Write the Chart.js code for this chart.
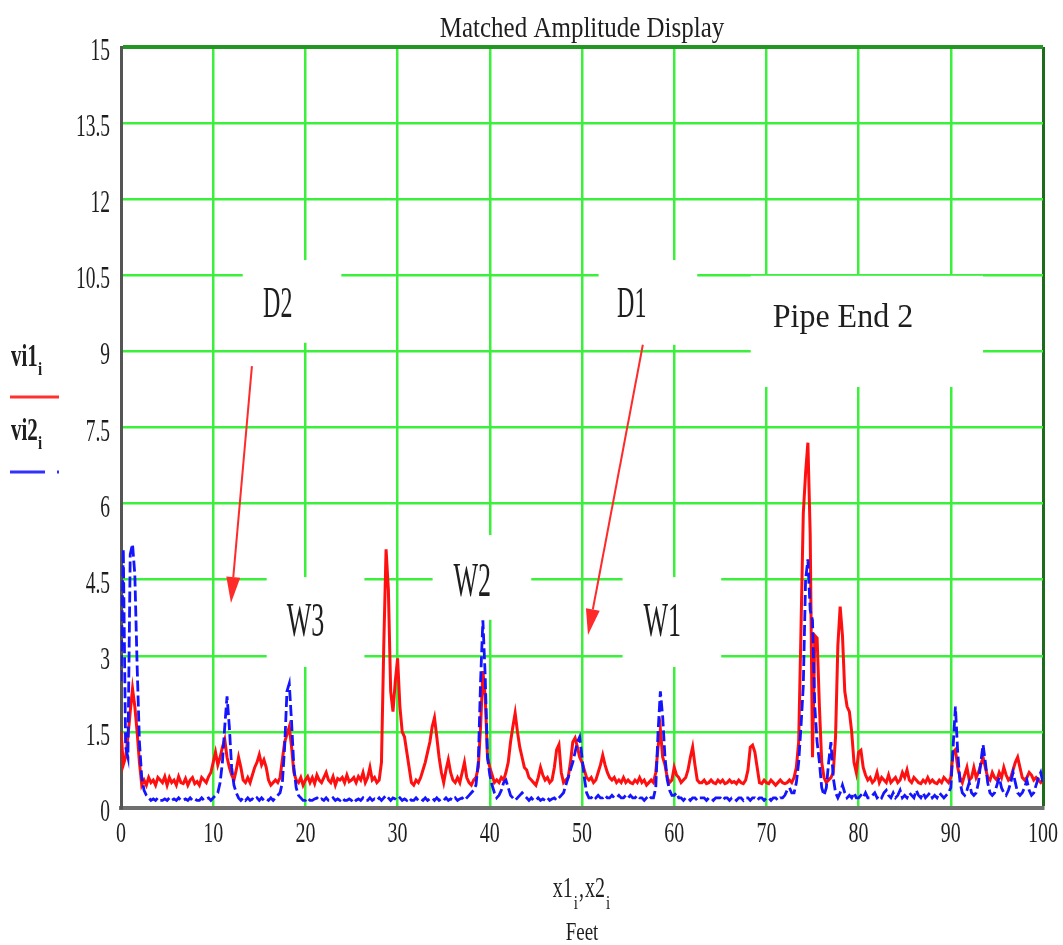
<!DOCTYPE html>
<html>
<head>
<meta charset="utf-8">
<title>Matched Amplitude Display</title>
<script src="https://cdn.jsdelivr.net/npm/chart.js@4.4.1/dist/chart.umd.min.js"></script>
<style>
  html, body { margin: 0; padding: 0; background: #fff; }
  canvas { display: block; }
</style>
</head>
<body>
<canvas id="ampChart" width="1063" height="945"></canvas>
<script>
// sample spacing along the pipe, in feet
const stepFeet = 0.25;

// vi1 - matched amplitude, trace 1 (one row = 5 ft)
const vi1 = [
  1.5, 0.85, 1.0, 1.4, 1.9, 2.35, 2.0, 1.5, 0.9, 0.45, 0.55, 0.45, 0.6, 0.5, 0.55, 0.45, 0.6, 0.55, 0.5, 0.62,
  0.45, 0.6, 0.5, 0.55, 0.45, 0.62, 0.5, 0.48, 0.58, 0.45, 0.55, 0.6, 0.48, 0.52, 0.45, 0.6, 0.55, 0.5, 0.62, 0.7,
  0.9, 1.1, 0.85, 1.0, 1.2, 1.35, 1.0, 0.8, 0.65, 0.55, 0.75, 1.0, 0.8, 0.55, 0.5, 0.6, 0.5, 0.65, 0.8, 0.9,
  1.05, 0.85, 0.95, 0.8, 0.55, 0.45, 0.5, 0.55, 0.5, 0.6, 0.95, 1.3, 1.45, 1.6, 1.2, 0.7, 0.55, 0.5, 0.6, 0.45,
  0.55, 0.62, 0.5, 0.6, 0.48, 0.65, 0.55, 0.5, 0.6, 0.7, 0.55, 0.5, 0.62, 0.45, 0.58, 0.55, 0.6, 0.5, 0.65, 0.52,
  0.55, 0.6, 0.5, 0.62, 0.55, 0.7, 0.5, 0.6, 0.8, 0.55, 0.6, 0.5, 0.55, 0.9, 3.2, 5.1, 4.3, 2.3, 1.9, 2.5,
  2.95, 2.0, 1.5, 1.4, 1.1, 0.8, 0.5, 0.45, 0.55, 0.5, 0.6, 0.75, 0.9, 1.1, 1.3, 1.6, 1.78, 1.4, 1.0, 0.7,
  0.5, 0.75, 0.95, 0.7, 0.55, 0.5, 0.6, 0.5, 0.7, 0.9, 0.6, 0.5, 0.45, 0.55, 0.6, 0.8, 1.6, 2.7, 2.2, 1.0,
  0.8, 0.65, 0.5, 0.55, 0.5, 0.6, 0.55, 0.7, 0.9, 1.3, 1.6, 1.87, 1.5, 1.2, 1.0, 0.8, 0.75, 0.6, 0.55, 0.5,
  0.45, 0.6, 0.8, 0.65, 0.55, 0.6, 0.5, 0.55, 0.8, 1.15, 1.25, 0.7, 0.5, 0.55, 0.6, 0.9, 1.3, 1.38, 1.2, 1.0,
  0.9, 0.75, 0.6, 0.55, 0.6, 0.5, 0.55, 0.7, 0.85, 1.04, 0.85, 0.7, 0.6, 0.55, 0.6, 0.5, 0.55, 0.5, 0.6, 0.5,
  0.55, 0.5, 0.48, 0.55, 0.5, 0.6, 0.5, 0.55, 0.45, 0.5, 0.55, 0.5, 0.7, 1.2, 1.55, 1.0, 0.85, 0.6, 0.5, 0.55,
  0.8, 0.65, 0.6, 0.5, 0.55, 0.6, 0.75, 1.0, 1.2, 0.85, 0.55, 0.5, 0.5, 0.55, 0.48, 0.5, 0.55, 0.5, 0.48, 0.55,
  0.5, 0.55, 0.48, 0.5, 0.55, 0.5, 0.52, 0.48, 0.55, 0.5, 0.48, 0.55, 0.75, 1.2, 1.24, 1.1, 0.8, 0.5, 0.48, 0.55,
  0.5, 0.48, 0.55, 0.5, 0.45, 0.5, 0.55, 0.5, 0.48, 0.5, 0.55, 0.5, 0.6, 0.8, 1.3, 3.5, 5.8, 6.6, 7.2, 5.4,
  1.0, 3.4, 3.35, 2.0, 0.9, 0.6, 0.5, 0.55, 0.6, 0.7, 1.4, 3.2, 3.97, 3.4, 2.3, 2.0, 1.9, 1.5, 0.9, 0.7,
  1.1, 1.14, 0.8, 0.65, 0.55, 0.6, 0.5, 0.55, 0.7, 0.5, 0.6, 0.55, 0.5, 0.65, 0.5, 0.55, 0.6, 0.5, 0.55, 0.7,
  0.6, 0.75, 0.55, 0.5, 0.6, 0.55, 0.5, 0.48, 0.55, 0.5, 0.6, 0.5, 0.55, 0.5, 0.48, 0.55, 0.5, 0.6, 0.55, 0.5,
  0.6, 1.1, 1.15, 0.8, 0.6, 0.5, 0.65, 0.8, 0.55, 0.6, 0.8, 0.6, 0.7, 0.85, 1.0, 0.8, 0.6, 0.55, 0.7, 0.6,
  0.55, 0.7, 0.6, 0.8, 0.65, 0.55, 0.6, 0.75, 0.9, 1.0, 0.8, 0.6, 0.55, 0.6, 0.7, 0.65, 0.55, 0.6, 0.55, 0.5, 0.55
];

// vi2 - matched amplitude, trace 2 (one row = 5 ft)
const vi2 = [
  2.5, 5.1, 1.2, 1.0, 5.0, 5.2, 4.6, 2.8, 1.3, 0.6, 0.35, 0.25, 0.2, 0.15, 0.18, 0.15, 0.2, 0.15, 0.15, 0.18,
  0.15, 0.2, 0.15, 0.18, 0.15, 0.2, 0.15, 0.15, 0.18, 0.15, 0.2, 0.15, 0.18, 0.15, 0.15, 0.2, 0.15, 0.18, 0.2, 0.15,
  0.2, 0.25, 0.3, 0.5, 0.9, 1.6, 2.2, 1.6, 0.8, 0.45, 0.3, 0.2, 0.15, 0.2, 0.15, 0.2, 0.15, 0.18, 0.15, 0.2,
  0.15, 0.2, 0.15, 0.18, 0.15, 0.2, 0.15, 0.2, 0.25, 0.3, 0.5, 1.2, 2.3, 2.45, 1.7, 0.8, 0.4, 0.25, 0.2, 0.15,
  0.15, 0.2, 0.15, 0.15, 0.18, 0.2, 0.15, 0.18, 0.15, 0.2, 0.15, 0.15, 0.2, 0.15, 0.18, 0.15, 0.2, 0.15, 0.15, 0.18,
  0.15, 0.2, 0.15, 0.18, 0.15, 0.2, 0.15, 0.15, 0.2, 0.15, 0.18, 0.15, 0.2, 0.15, 0.2, 0.25, 0.2, 0.15, 0.2, 0.18,
  0.15, 0.2, 0.15, 0.18, 0.15, 0.2, 0.15, 0.15, 0.2, 0.15, 0.18, 0.15, 0.2, 0.15, 0.18, 0.2, 0.15, 0.2, 0.15, 0.18,
  0.15, 0.2, 0.15, 0.18, 0.15, 0.2, 0.15, 0.18, 0.2, 0.15, 0.2, 0.25, 0.3, 0.35, 0.45, 0.9, 2.5, 3.7, 2.6, 1.0,
  0.65, 0.45, 0.3, 0.2, 0.25, 0.35, 0.5, 0.55, 0.4, 0.25, 0.2, 0.15, 0.2, 0.25, 0.3, 0.25, 0.2, 0.15, 0.2, 0.15,
  0.15, 0.2, 0.15, 0.18, 0.15, 0.2, 0.15, 0.18, 0.2, 0.15, 0.2, 0.25, 0.3, 0.45, 0.6, 0.75, 0.9, 1.1, 1.3, 1.4,
  1.0, 0.6, 0.3, 0.2, 0.2, 0.25, 0.2, 0.25, 0.2, 0.2, 0.25, 0.2, 0.2, 0.25, 0.2, 0.2, 0.25, 0.2, 0.2, 0.25,
  0.2, 0.25, 0.2, 0.2, 0.25, 0.2, 0.2, 0.15, 0.2, 0.25, 0.2, 0.2, 0.4, 1.5, 2.3, 1.8, 1.0, 0.55, 0.35, 0.25,
  0.25, 0.3, 0.2, 0.2, 0.15, 0.2, 0.2, 0.15, 0.2, 0.2, 0.15, 0.2, 0.2, 0.2, 0.15, 0.2, 0.2, 0.15, 0.2, 0.2,
  0.2, 0.15, 0.2, 0.2, 0.15, 0.2, 0.2, 0.15, 0.2, 0.2, 0.15, 0.2, 0.2, 0.15, 0.2, 0.2, 0.15, 0.2, 0.2, 0.15,
  0.2, 0.2, 0.15, 0.2, 0.2, 0.15, 0.2, 0.2, 0.25, 0.35, 0.4, 0.3, 0.3, 0.5, 0.9, 1.6, 2.4, 4.5, 4.9, 3.9,
  3.7, 2.0, 1.3, 0.9, 0.4, 0.25, 0.4, 0.9, 1.3, 0.6, 0.3, 0.2, 0.3, 0.45, 0.3, 0.2, 0.25, 0.2, 0.3, 0.2,
  0.2, 0.25, 0.2, 0.3, 0.2, 0.2, 0.25, 0.3, 0.2, 0.25, 0.2, 0.3, 0.35, 0.25, 0.2, 0.3, 0.2, 0.25, 0.35, 0.2,
  0.25, 0.2, 0.3, 0.25, 0.2, 0.35, 0.25, 0.2, 0.3, 0.2, 0.25, 0.3, 0.2, 0.25, 0.2, 0.3, 0.25, 0.2, 0.25, 0.3,
  0.4, 1.2, 2.0, 1.1, 0.5, 0.3, 0.25, 0.35, 0.5, 0.3, 0.25, 0.3, 0.5, 0.9, 1.25, 0.9, 0.5, 0.3, 0.25, 0.3,
  0.45, 0.6, 0.4, 0.3, 0.25, 0.35, 0.5, 0.7, 0.5, 0.3, 0.25, 0.3, 0.4, 0.55, 0.35, 0.25, 0.3, 0.45, 0.6, 0.7, 0.5
];

const xTickLabels = ['0', '10', '20', '30', '40', '50', '60', '70', '80', '90', '100'];
const yTickLabels = ['0', '1.5', '3', '4.5', '6', '7.5', '9', '10.5', '12', '13.5', '15'];

// white label areas, in feet / amplitude units
const labelBoxes = [
  { x0: 13.2, x1: 23.9, y0: 9.17, y1: 10.8 },   // D2
  { x0: 51.8, x1: 62.5, y0: 9.13, y1: 10.8 },   // D1
  { x0: 68.3, x1: 93.5, y0: 8.3, y1: 10.49 },   // Pipe End 2
  { x0: 15.8, x1: 26.4, y0: 2.78, y1: 4.55 },   // W3
  { x0: 33.8, x1: 44.5, y0: 3.71, y1: 5.38 },   // W2
  { x0: 54.4, x1: 65.1, y0: 2.78, y1: 4.55 }    // W1
];
const markerText = [
  { text: 'D2', x: 17.0, y: 9.68, size: 24, sy: 1.85 },
  { text: 'D1', x: 55.4, y: 9.68, size: 24, sy: 1.85 },
  { text: 'Pipe End 2', x: 78.3, y: 9.48, size: 32, sy: 1.08 },
  { text: 'W3', x: 20.0, y: 3.39, size: 26, sy: 1.85 },
  { text: 'W2', x: 38.1, y: 4.18, size: 26, sy: 1.85 },
  { text: 'W1', x: 58.7, y: 3.39, size: 26, sy: 1.85 }
];
const markerArrows = [
  { from: [14.2, 8.71], to: [11.93, 4.04] },
  { from: [56.6, 9.13], to: [50.65, 3.41] }
];

const SERIF = '"Liberation Serif", "Times New Roman", serif';
const GRID_GREEN = '#3cef3c';
const TEXT_COLOR = '#1e1e1e';

function toPoints(values) {
  return values.map((v, i) => ({ x: i * stepFeet, y: v }));
}

// text drawn taller than wide, the way the plot program renders it
function tallText(c, str, x, y, size, sy, align, weight) {
  c.save();
  c.translate(x, y);
  c.scale(1, sy);
  c.font = (weight || '') + ' ' + size + 'px ' + SERIF;
  c.textAlign = align || 'left';
  c.textBaseline = 'alphabetic';
  c.fillStyle = TEXT_COLOR;
  c.fillText(str, 0, 0);
  c.restore();
}

function textWidth(c, str, size, weight) {
  c.font = (weight || '') + ' ' + size + 'px ' + SERIF;
  return c.measureText(str).width;
}

function drawArrow(c, x1, y1, x2, y2) {
  const ang = Math.atan2(y2 - y1, x2 - x1);
  const head = 26, half = 7;
  const bx = x2 - head * Math.cos(ang);
  const by = y2 - head * Math.sin(ang);
  c.save();
  c.strokeStyle = '#ff2a2a';
  c.fillStyle = '#ff2a2a';
  c.lineWidth = 2;
  c.beginPath();
  c.moveTo(x1, y1);
  c.lineTo(bx, by);
  c.stroke();
  c.beginPath();
  c.moveTo(x2, y2);
  c.lineTo(bx - half * Math.sin(ang), by + half * Math.cos(ang));
  c.lineTo(bx + half * Math.sin(ang), by - half * Math.cos(ang));
  c.closePath();
  c.fill();
  c.restore();
}

// blank areas behind the marker labels, over the grid
const labelBoxPlugin = {
  id: 'labelBoxes',
  beforeDatasetsDraw(chart) {
    const c = chart.ctx, xs = chart.scales.x, ys = chart.scales.y;
    c.save();
    c.fillStyle = '#ffffff';
    labelBoxes.forEach(b => {
      const l = xs.getPixelForValue(b.x0), r = xs.getPixelForValue(b.x1);
      const t = ys.getPixelForValue(b.y1), btm = ys.getPixelForValue(b.y0);
      c.fillRect(l, t, r - l, btm - t);
    });
    c.restore();
  }
};

// title, tick labels, axis names, legend and markers
const textPlugin = {
  id: 'mathcadText',
  afterDraw(chart) {
    const c = chart.ctx, area = chart.chartArea;
    const xs = chart.scales.x, ys = chart.scales.y;
    const midX = (area.left + area.right) / 2;

    tallText(c, 'Matched Amplitude Display', midX, 37, 25, 1.15, 'center');

    ys.ticks.forEach((t, i) => {
      tallText(c, yTickLabels[i], area.left - 11, ys.getPixelForValue(t.value) + 13, 19.5, 1.6, 'right');
    });
    xs.ticks.forEach((t, i) => {
      tallText(c, xTickLabels[i], xs.getPixelForValue(t.value), area.bottom + 34, 20, 1.5, 'center');
    });

    // x axis name: x1_i, x2_i / Feet
    const parts = [['x1', 20, 0], ['i', 15, 12], [',', 20, 0], ['x2', 20, 0], ['i', 15, 12]];
    let total = 0;
    parts.forEach(p => { total += textWidth(c, p[0], p[1]) + 1; });
    let px = midX - total / 2;
    parts.forEach(p => {
      tallText(c, p[0], px, 897 + p[2], p[1], p[2] ? 1.3 : 1.5, 'left');
      px += textWidth(c, p[0], p[1]) + 1;
    });
    tallText(c, 'Feet', midX, 940, 19, 1.35, 'center');

    // legend on the left
    tallText(c, 'vi1', 11, 366, 21, 1.55, 'left', 'bold');
    tallText(c, 'i', 38, 375, 15, 1.3, 'left', 'bold');
    tallText(c, 'vi2', 11, 440, 21, 1.55, 'left', 'bold');
    tallText(c, 'i', 38, 449, 15, 1.3, 'left', 'bold');
    c.save();
    c.lineWidth = 3;
    c.strokeStyle = '#ff3030';
    c.beginPath(); c.moveTo(10, 397); c.lineTo(59, 397); c.stroke();
    c.strokeStyle = '#3030ff';
    c.setLineDash([35, 12, 2, 100]);
    c.beginPath(); c.moveTo(10, 472); c.lineTo(60, 472); c.stroke();
    c.restore();

    markerText.forEach(m => {
      tallText(c, m.text, xs.getPixelForValue(m.x), ys.getPixelForValue(m.y), m.size, m.sy, 'center');
    });
    markerArrows.forEach(a => {
      drawArrow(c, xs.getPixelForValue(a.from[0]), ys.getPixelForValue(a.from[1]),
                   xs.getPixelForValue(a.to[0]), ys.getPixelForValue(a.to[1]));
    });
  }
};

const ctx = document.getElementById('ampChart').getContext('2d');
const chart = new Chart(ctx, {
  type: 'line',
  data: {
    datasets: [
      {
        label: 'vi1',
        data: toPoints(vi1),
        borderColor: '#ff1010',
        borderWidth: 3,
        pointRadius: 0,
        tension: 0,
        order: 1
      },
      {
        label: 'vi2',
        data: toPoints(vi2),
        borderColor: '#1414ff',
        borderWidth: 2.8,
        borderDash: [11, 4],
        pointRadius: 0,
        tension: 0,
        order: 0
      }
    ]
  },
  options: {
    responsive: false,
    animation: false,
    parsing: false,
    layout: { padding: { top: 47, right: 20, left: 0, bottom: 0 } },
    plugins: {
      legend: { display: false },
      tooltip: { enabled: false },
      title: { display: false }
    },
    scales: {
      x: {
        type: 'linear',
        min: 0,
        max: 100,
        ticks: { stepSize: 10, display: false },
        grid: {
          drawTicks: false,
          color: c => c.tick.value === 0 ? 'rgba(0,0,0,0)' : (c.tick.value === 100 ? '#1c6c1c' : GRID_GREEN),
          lineWidth: c => c.tick.value === 100 ? 3 : 2.5
        },
        border: { display: true, color: '#707070', width: 4 },
        afterFit: s => { s.height = 137; }
      },
      y: {
        type: 'linear',
        min: 0,
        max: 15,
        ticks: { stepSize: 1.5, display: false },
        grid: {
          drawTicks: false,
          color: c => c.tick.value === 0 ? 'rgba(0,0,0,0)' : (c.tick.value === 15 ? '#239623' : GRID_GREEN),
          lineWidth: c => c.tick.value === 15 ? 4 : 2.5
        },
        border: { display: true, color: '#555555', width: 3 },
        afterFit: s => { s.width = 121; }
      }
    }
  },
  plugins: [labelBoxPlugin, textPlugin]
});
</script>
</body>
</html>
